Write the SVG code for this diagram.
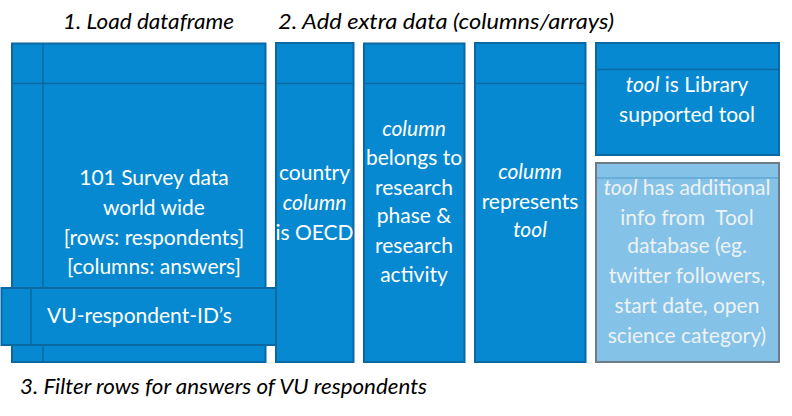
<svg xmlns="http://www.w3.org/2000/svg" width="792" height="416" viewBox="0 0 792 416">
<style>
.box{fill:#0789d1;stroke:#0b68a2;stroke-width:2}
.lbox{fill:#84c3e7;stroke:#6f7c86;stroke-width:2}
.ln{stroke:#0b68a2;stroke-width:1.5;fill:none}
.lln{stroke:#5fa7d3;stroke-width:1.5;fill:none}
.t{font-family:Lato,"Open Sans",sans-serif;font-size:21px;fill:#ffffff;text-anchor:middle}
.lt{font-family:Lato,"Open Sans",sans-serif;font-size:21px;fill:#eef2f5;text-anchor:middle}
.h{font-family:Lato,"Open Sans",sans-serif;font-size:22px;font-style:italic;fill:#000000}
.i{font-style:italic}
</style>
<g id="titles">
<text class="h" x="63" y="29" textLength="171" lengthAdjust="spacingAndGlyphs">1. Load dataframe</text>
<text class="h" x="278" y="29" textLength="336" lengthAdjust="spacingAndGlyphs">2. Add extra data (columns/arrays)</text>
<text class="h" x="20" y="394" textLength="407" lengthAdjust="spacingAndGlyphs">3. Filter rows for answers of VU respondents</text>
</g>
<g id="dataframe">
<rect class="box" x="12" y="43.5" width="253.5" height="318.5"/>
<line class="ln" x1="43" y1="43.5" x2="43" y2="362"/>
<line class="ln" x1="12" y1="83.5" x2="265.5" y2="83.5"/>
<text class="t" x="154" y="185">101 Survey data</text>
<text class="t" x="154" y="215">world wide</text>
<text class="t" x="154" y="245">[rows: respondents]</text>
<text class="t" x="154" y="274">[columns: answers]</text>
</g>
<g id="vu-ids">
<rect class="box" x="1.5" y="288" width="274.5" height="57"/>
<line class="ln" x1="31" y1="288" x2="31" y2="346"/>
<text class="t" x="47" y="323" style="text-anchor:start">VU-respondent-ID’s</text>
</g>
<g id="country">
<rect class="box" x="276" y="43" width="77.5" height="319"/>
<line class="ln" x1="276" y1="83.5" x2="353.5" y2="83.5"/>
<text class="t" x="314.5" y="180">country</text>
<text class="t i" x="314.5" y="210">column</text>
<text class="t" x="314.5" y="240">is OECD</text>
</g>
<g id="phase">
<rect class="box" x="364" y="43.5" width="100.5" height="318.5"/>
<line class="ln" x1="364" y1="83.5" x2="464.5" y2="83.5"/>
<text class="t i" x="414" y="136">column</text>
<text class="t" x="414" y="165">belongs to</text>
<text class="t" x="414" y="195">research</text>
<text class="t" x="414" y="223">phase &amp;</text>
<text class="t" x="414" y="253">research</text>
<text class="t" x="414" y="282">activity</text>
</g>
<g id="represents">
<rect class="box" x="475" y="43" width="110.5" height="319"/>
<line class="ln" x1="475" y1="83.5" x2="585.5" y2="83.5"/>
<text class="t i" x="530" y="179">column</text>
<text class="t" x="530" y="209">represents</text>
<text class="t i" x="530" y="237">tool</text>
</g>
<g id="library">
<rect class="box" x="596" y="43" width="183" height="112"/>
<line class="ln" x1="596" y1="69.5" x2="779" y2="69.5"/>
<text class="t" x="687" y="92"><tspan class="i">tool</tspan> is Library</text>
<text class="t" x="687" y="122">supported tool</text>
</g>
<g id="tooldb">
<rect class="lbox" x="596" y="163" width="183" height="199"/>
<line class="lln" x1="597" y1="178" x2="778" y2="178"/>
<text class="lt" x="687" y="195"><tspan class="i">tool</tspan> has additional</text>
<text class="lt" x="687" y="225" style="white-space:pre">info from  Tool</text>
<text class="lt" x="687" y="253">database (eg.</text>
<text class="lt" x="687" y="283">twitter followers,</text>
<text class="lt" x="687" y="313">start date, open</text>
<text class="lt" x="687" y="343">science category)</text>
</g>
<g id="connectors"></g>
</svg>
